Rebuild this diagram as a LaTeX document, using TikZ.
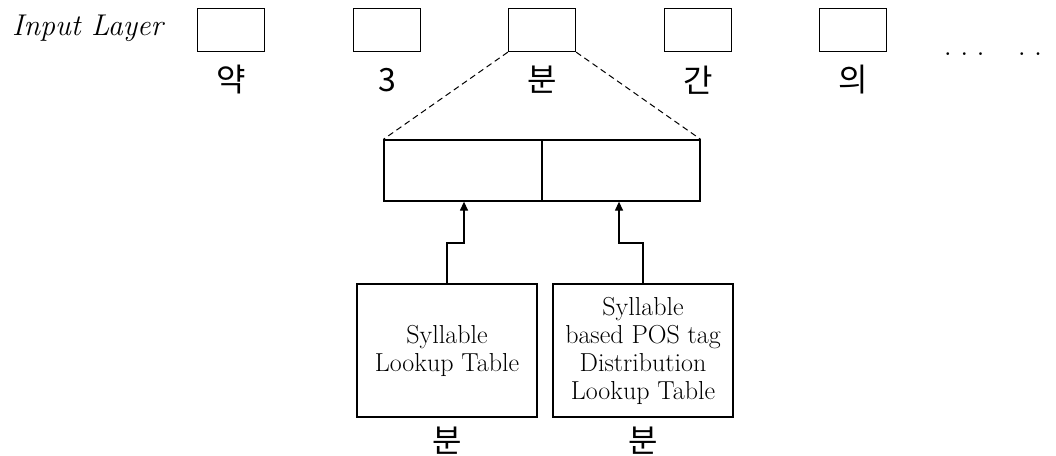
\documentclass[tikz,border=0pt]{standalone}
\usepackage{fontspec}
\newfontfamily\kor{Noto Sans CJK KR}
\usetikzlibrary{arrows.meta}
\begin{document}
\begin{tikzpicture}[x=1pt,y=-1pt,
  cell/.style={draw,line width=1.3pt,minimum width=67pt,minimum height=43pt,inner sep=0pt},
  syl/.style={font=\kor\fontsize{32}{32}\selectfont,inner sep=0pt},
  tbl/.style={draw,line width=1.3pt,minimum width=180pt,minimum height=133pt,inner sep=0pt,
    align=center,font=\fontsize{26}{28}\selectfont},
  link/.style={line width=1.3pt,-{Triangle[length=9pt,width=8pt]}},
  zoomline/.style={line width=1pt,dash pattern=on 6pt off 4pt}]
\useasboundingbox (0,0) rectangle (1056,455);

% input layer label
\node[anchor=base west,font=\itshape\fontsize{30}{30}\selectfont,inner sep=0pt] (lbl) at (12,35) {Input Layer};

% input cells and their syllables
\foreach \i/\x/\s in {1/231/약,2/387/3,3/542/분,4/698/간,5/853/의}{
  \node[cell] (c\i) at (\x,30) {};
  \node[syl] (s\i) at (\x,80) {\s};
}
\node[font=\fontsize{34}{34}\selectfont,inner sep=0pt,anchor=base west] (dots) at (943.3,55)
  {.\hspace{8pt}.\hspace{8pt}.\hspace{32.5pt}.\hspace{8pt}.};

% expanded embedding vector
\node[draw,line width=1.3pt,minimum width=316pt,minimum height=61pt,inner sep=0pt] (vec) at (542,170.5) {};
\draw[line width=1.3pt] (vec.north) -- (vec.south);
\draw[zoomline] (c3.south west) -- (vec.north west);
\draw[zoomline] (c3.south east) -- (vec.north east);

% lookup tables
\node[tbl] (t1) at (447,350.5) {Syllable\\Lookup Table};
\node[tbl] (t2) at (643,350.5) {Syllable\\based POS tag\\Distribution\\Lookup Table};
\node[syl] (b1) at (447,441) {분};
\node[syl] (b2) at (643,441) {분};

% connections from tables to vector halves
\coordinate (k1) at (464,243);
\coordinate (k2) at (619,243);
\draw[link] (t1.north) |- (k1) -- (k1 |- vec.south);
\draw[link] (t2.north) |- (k2) -- (k2 |- vec.south);
\end{tikzpicture}
\end{document}
